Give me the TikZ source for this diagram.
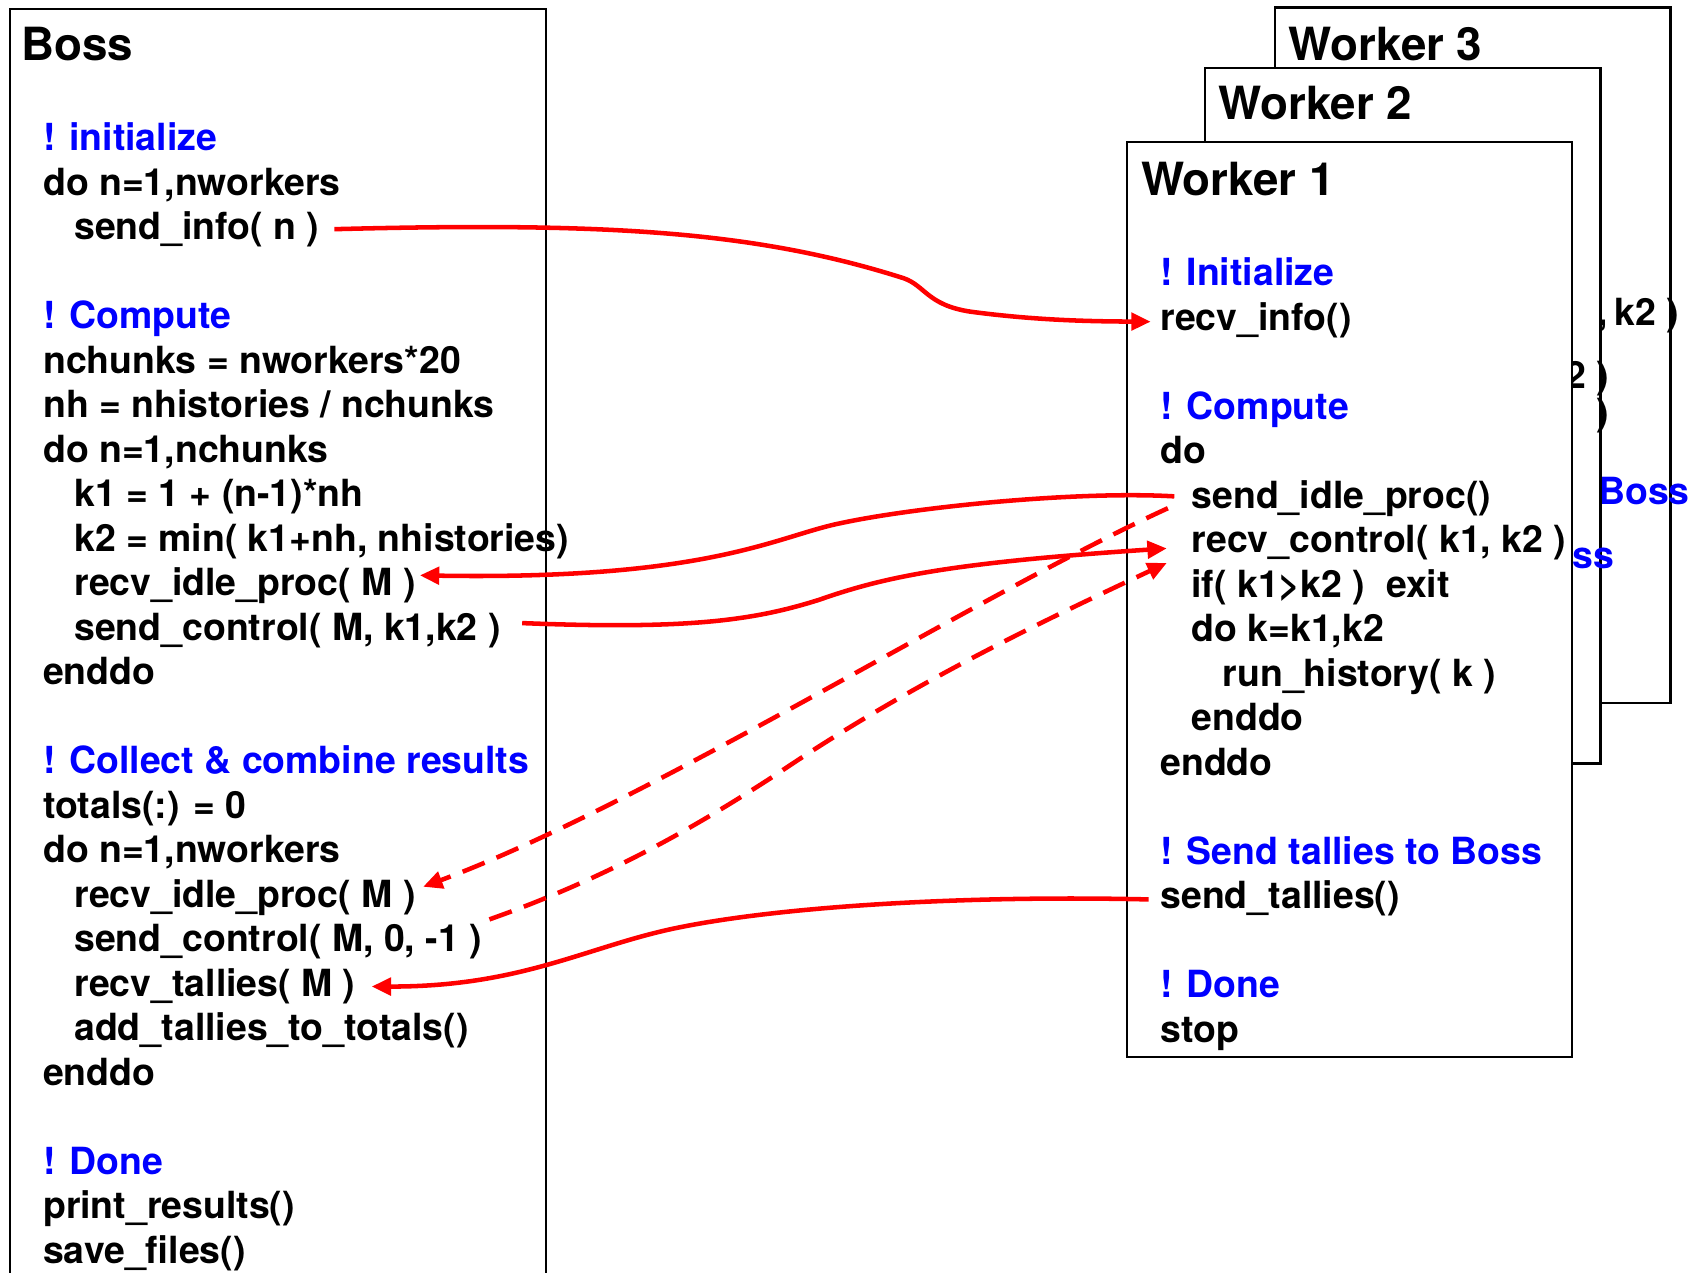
\documentclass[tikz,border=0pt]{standalone}
\usepackage{fontspec}
\setmainfont{TeX Gyre Heros}
\usetikzlibrary{arrows.meta}
\begin{document}
\begin{tikzpicture}[x=0.5pt,y=-0.5pt,
  codeline/.style={font=\fontsize{17.35}{20}\selectfont\bfseries, inner sep=0pt, outer sep=0pt, anchor=base west},
  cmt/.style={codeline, text=blue},
  ttl/.style={codeline, font=\fontsize{21.2}{24}\selectfont\bfseries},
  wbox/.style={draw=black, line width=1pt, fill=white},
  msg/.style={draw=red, line width=2.1pt, -{Triangle[length=9pt,width=8pt]}},
  msgd/.style={msg, dash pattern=on 11pt off 6pt}]
\useasboundingbox (0,0) rectangle (1568,1180);
\fill[white] (0,0) rectangle (1568,1180);

% ---------------- Boss ----------------
\draw[line width=1pt] (9,1180) -- (9,8) -- (506,8) -- (506,1180);
\node[ttl] (bosstitle) at (20,56) {Boss};
\node[cmt] (b0) at (40,140) {! initialize};
\node[codeline] (b1) at (40,181.25) {do n=1,nworkers};
\node[codeline] (bsendinfo) at (68.9,222.5) {send\_info( n )};
\node[cmt] (b4) at (40,305) {! Compute};
\node[codeline] (b5) at (40,346.25) {nchunks = nworkers*20};
\node[codeline] (b6) at (40,387.5) {nh = nhistories / nchunks};
\node[codeline] (b7) at (40,428.75) {do n=1,nchunks};
\node[codeline] (b8) at (68.9,470) {k1 = 1 + (n-1)*nh};
\node[codeline] (b9) at (68.9,511.25) {k2 = min( k1+nh, nhistories)};
\node[codeline] (brecvidle) at (68.9,552.5) {recv\_idle\_proc( M )};
\node[codeline] (bsendctl) at (68.9,593.75) {send\_control( M, k1,k2 )};
\node[codeline] (b12) at (40,635) {enddo};
\node[cmt] (b14) at (40,717.5) {! Collect \& combine results};
\node[codeline] (b15) at (40,758.75) {totals(:) = 0};
\node[codeline] (b16) at (40,800) {do n=1,nworkers};
\node[codeline] (brecvidleb) at (68.9,841.25) {recv\_idle\_proc( M )};
\node[codeline] (bsendctlb) at (68.9,882.5) {send\_control( M, 0, -1 )};
\node[codeline] (brecvtal) at (68.9,923.75) {recv\_tallies( M )};
\node[codeline] (b20) at (68.9,965) {add\_tallies\_to\_totals()};
\node[codeline] (b21) at (40,1006.25) {enddo};
\node[cmt] (b23) at (40,1088.75) {! Done};
\node[codeline] (b24) at (40,1130) {print\_results()};
\node[codeline] (b25) at (40,1171.25) {save\_files()};

% ---------------- Worker 3 ----------------
\path[wbox] (1182,7) rectangle (1549,652);
\node[ttl] (w3title) at (1195,56) {Worker 3};
\node[codeline, anchor=base east] (w3a) at (1557,302) {,\hspace{3pt}k2 )};
\node[cmt] (w3b) at (1482,468) {Boss};

% ---------------- Worker 2 ----------------
\path[wbox] (1117,63) rectangle (1484,708);
\node[ttl] (w2title) at (1130,111) {Worker 2};
\node[codeline, anchor=north east, align=right, font=\fontsize{17.35}{14.5}\selectfont\bfseries] (w2a) at (1492,335) {2 )\\)};
\node[cmt, anchor=base east] (w2c) at (1497,527) {ss};

% ---------------- Worker 1 ----------------
\path[wbox] (1045,132) rectangle (1458,980);
\node[ttl] (w1title) at (1058,181) {Worker 1};
\node[cmt] (w0) at (1076,265) {! Initialize};
\node[codeline] (wrecvinfo) at (1076,306.25) {recv\_info()};
\node[cmt] (w3) at (1076,388.75) {! Compute};
\node[codeline] (w4) at (1076,430) {do};
\node[codeline] (wsendidle) at (1104.9,471.25) {send\_idle\_proc()};
\node[codeline] (wrecvctl) at (1104.9,512.5) {recv\_control( k1, k2 )};
\node[codeline] (wif) at (1104.9,553.75) {if( k1>k2 )~~exit};
\node[codeline] (w8) at (1104.9,595) {do k=k1,k2};
\node[codeline] (w9) at (1133.8,636.25) {run\_history( k )};
\node[codeline] (w10) at (1104.9,677.5) {enddo};
\node[codeline] (w11) at (1076,718.75) {enddo};
\node[cmt] (w13) at (1076,801.25) {! Send tallies to Boss};
\node[codeline] (wsendtal) at (1076,842.5) {send\_tallies()};
\node[cmt] (w16) at (1076,925) {! Done};
\node[codeline] (w17) at (1076,966.25) {stop};

% ---------------- Messages ----------------
\draw[msg] ([shift={(14,-10)}]bsendinfo.base east)
  .. controls (560,206) and (700,214) .. (838,258)
  .. controls (858,265) and (860,283) .. (900,289)
  .. controls (960,297) and (1010,298) .. ([shift={(-9,-8)}]wrecvinfo.base west);

\draw[msg] ([shift={(-16,-11)}]wsendidle.base west)
  .. controls (1000,455) and (850,470) .. (780,485)
  .. controls (720,497) and (660,538) .. ([shift={(4,-19)}]brecvidle.base east);

\draw[msg] ([shift={(20,-16)}]bsendctl.base east)
  .. controls (640,584) and (700,575) .. (760,556)
  .. controls (820,535) and (880,522) .. ([shift={(-23,-4)}]wrecvctl.base west);

\draw[msgd] ([shift={(-22,0)}]wsendidle.base west)
  .. controls (900,555) and (600,745) .. ([shift={(7,-19)}]brecvidleb.base east);

\draw[msgd] ([shift={(7,-30)}]bsendctlb.base east)
  .. controls (560,815) and (640,770) .. (720,718)
  .. controls (850,630) and (980,570) .. ([shift={(-23,9.5)}]wrecvctl.base west);

\draw[msg] ([shift={(-11,-8.5)}]wsendtal.base west)
  .. controls (900,830) and (720,840) .. (620,862)
  .. controls (540,880) and (480,915) .. ([shift={(15,-9)}]brecvtal.base east);
\end{tikzpicture}
\end{document}
